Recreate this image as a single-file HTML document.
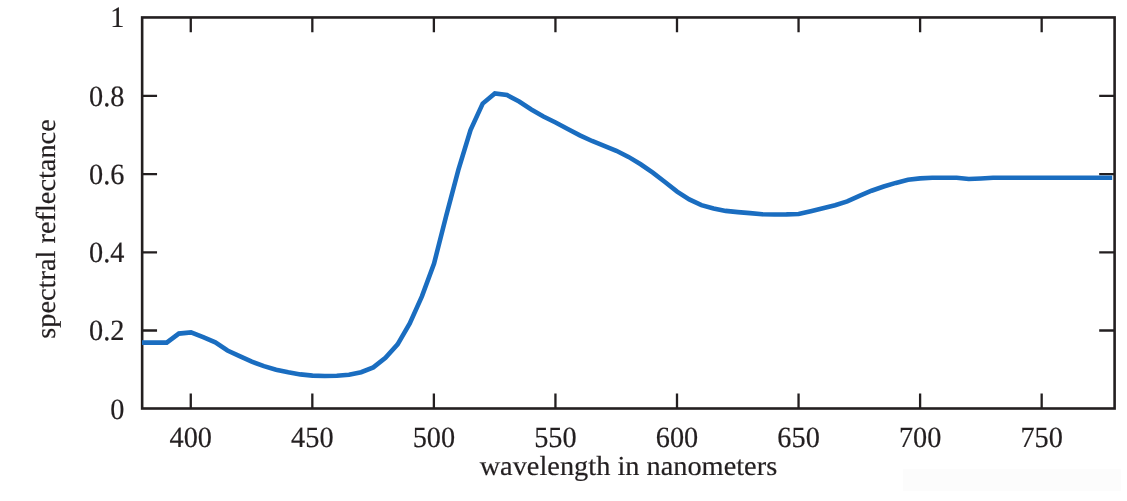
<!DOCTYPE html>
<html lang="en">
<head>
<meta charset="utf-8">
<title>Spectral reflectance</title>
<style>
html,body{margin:0;padding:0;background:#fff;}
body{width:1127px;height:501px;overflow:hidden;}
svg{display:block;}
text{font-family:"Liberation Serif","Times New Roman",serif;font-size:28.35px;fill:#231f20;stroke:#231f20;stroke-width:0.2px;text-rendering:geometricPrecision;}
text.n{font-size:28.3px;}
</style>
</head>
<body>
<svg width="1127" height="501" viewBox="0 0 1127 501">
<rect width="1127" height="501" fill="#fff"/>
<rect x="903" y="469" width="218" height="22" fill="#fcfcfc"/>
<path d="M190.77,408.50v-14.90M190.77,17.45v14.90M312.33,408.50v-14.90M312.33,17.45v14.90M433.88,408.50v-14.90M433.88,17.45v14.90M555.44,408.50v-14.90M555.44,17.45v14.90M677.00,408.50v-14.90M677.00,17.45v14.90M798.55,408.50v-14.90M798.55,17.45v14.90M920.11,408.50v-14.90M920.11,17.45v14.90M1041.67,408.50v-14.90M1041.67,17.45v14.90M142.15,330.49h14.90M1114.60,330.49h-15.40M142.15,252.28h14.90M1114.60,252.28h-15.40M142.15,174.07h14.90M1114.60,174.07h-15.40M142.15,95.86h14.90M1114.60,95.86h-15.40" fill="none" stroke="#231f20" stroke-width="2.3"/>
<rect x="142.15" y="17.45" width="972.45" height="391.05" fill="none" stroke="#231f20" stroke-width="2.6"/>
<polyline points="142.00,342.60 154.55,342.60 166.71,342.60 178.86,333.60 191.01,332.40 203.16,337.20 215.31,342.30 227.47,350.50 239.62,356.10 251.77,361.70 263.93,366.10 276.08,369.70 288.23,372.30 300.38,374.40 312.53,375.60 324.69,376.00 336.84,375.80 348.99,374.70 361.14,372.20 373.30,367.40 385.45,357.80 397.60,344.30 409.75,323.40 421.91,296.40 434.06,263.50 446.21,215.70 458.37,169.80 470.52,130.10 482.67,103.60 494.82,93.50 506.98,95.00 519.13,101.60 531.28,109.50 543.43,116.50 555.59,122.50 567.74,129.00 579.89,135.40 592.04,141.00 604.19,145.80 616.35,150.80 628.50,156.90 640.65,164.30 652.80,172.60 664.96,182.00 677.11,191.60 689.26,199.40 701.41,205.10 713.57,208.55 725.72,210.90 737.87,212.10 750.02,213.10 762.18,214.30 774.33,214.50 786.48,214.40 798.63,214.00 810.79,211.20 822.94,208.30 835.09,205.30 847.24,201.40 859.40,195.80 871.55,190.75 883.70,186.50 895.85,182.90 908.01,179.75 920.16,178.35 932.31,177.70 944.46,177.70 956.62,177.80 968.77,179.00 980.92,178.50 993.07,177.80 1005.23,177.70 1017.38,177.70 1029.53,177.70 1041.68,177.70 1053.84,177.70 1065.99,177.70 1078.14,177.70 1090.30,177.70 1102.45,177.70 1112.20,177.70" fill="none" stroke="#1a6dc0" stroke-width="4.6" stroke-linejoin="miter" stroke-miterlimit="4" stroke-linecap="butt"/>
<g><text class="n" transform="translate(190.77,446.6) scale(1,1.04)" text-anchor="middle">400</text><text class="n" transform="translate(312.33,446.6) scale(1,1.04)" text-anchor="middle">450</text><text class="n" transform="translate(433.88,446.6) scale(1,1.04)" text-anchor="middle">500</text><text class="n" transform="translate(555.44,446.6) scale(1,1.04)" text-anchor="middle">550</text><text class="n" transform="translate(677.00,446.6) scale(1,1.04)" text-anchor="middle">600</text><text class="n" transform="translate(798.55,446.6) scale(1,1.04)" text-anchor="middle">650</text><text class="n" transform="translate(920.11,446.6) scale(1,1.04)" text-anchor="middle">700</text><text class="n" transform="translate(1041.67,446.6) scale(1,1.04)" text-anchor="middle">750</text></g>
<g><text class="n" transform="translate(124.4,418.50) scale(1,1.04)" text-anchor="end">0</text><text class="n" transform="translate(124.4,340.29) scale(1,1.04)" text-anchor="end">0.2</text><text class="n" transform="translate(124.4,262.08) scale(1,1.04)" text-anchor="end">0.4</text><text class="n" transform="translate(124.4,183.87) scale(1,1.04)" text-anchor="end">0.6</text><text class="n" transform="translate(124.4,105.66) scale(1,1.04)" text-anchor="end">0.8</text><text class="n" transform="translate(124.4,27.45) scale(1,1.04)" text-anchor="end">1</text></g>
<text id="xlabel" transform="translate(628.4,474.8) scale(1,0.97)" text-anchor="middle">wavelength in nanometers</text>
<text id="ylabel" transform="translate(54.7,229.0) rotate(-90) scale(1,0.97)" text-anchor="middle">spectral reflectance</text>
</svg>
</body>
</html>
